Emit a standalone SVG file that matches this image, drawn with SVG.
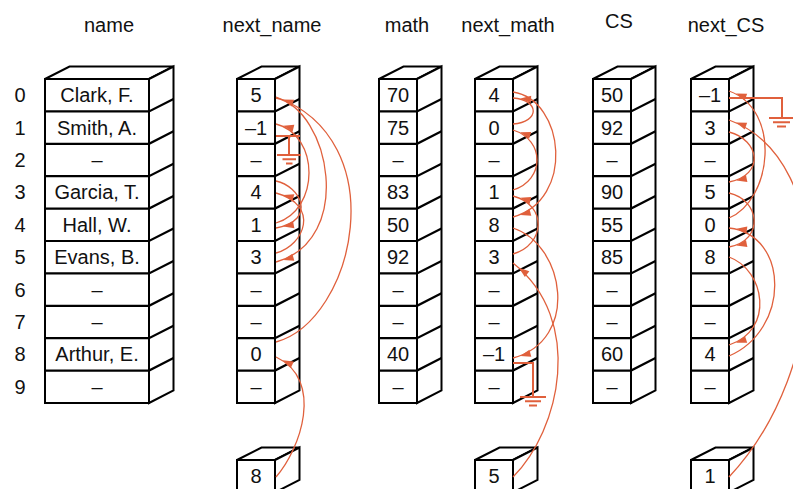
<svg xmlns="http://www.w3.org/2000/svg" xmlns:xlink="http://www.w3.org/1999/xlink" width="793" height="489" viewBox="0 0 793 489">
<style>
.f{fill:#fff;stroke:#000;stroke-width:2;stroke-linejoin:miter}
.s{fill:none;stroke:#000;stroke-width:2.2}
text{font-family:"Liberation Sans",Arial,sans-serif;font-size:20px;text-anchor:middle;fill:#111}
.c{fill:none;stroke:#E0603C;stroke-width:1.3;marker-end:url(#ah)}
.g{fill:none;stroke:#E0603C;stroke-width:2}
</style>
<defs>
<marker id="ah" markerUnits="userSpaceOnUse" markerWidth="30" markerHeight="30" refX="18" refY="0" orient="auto" overflow="visible">
<path d="M0,-3.6 L10.5,0 L0,3.6 Z" fill="#E0603C"/>
</marker>
<g id="col">
<path class="f" d="M0,0H38V324H0Z"/>
<path class="f" d="M0,0L24.5,-12.5H62.5L38,0Z"/>
<path class="f" d="M38,0L62.5,-12.5V311.5L38,324Z"/>
<path class="s" d="M0,32.4h38l24.5,-12.5M0,64.8h38l24.5,-12.5M0,97.2h38l24.5,-12.5M0,129.6h38l24.5,-12.5M0,162h38l24.5,-12.5M0,194.4h38l24.5,-12.5M0,226.8h38l24.5,-12.5M0,259.2h38l24.5,-12.5M0,291.6h38l24.5,-12.5"/>
</g>
<g id="box">
<path class="f" d="M0,0H38V32.4H0Z"/>
<path class="f" d="M0,0L24.5,-12.5H62.5L38,0Z"/>
<path class="f" d="M38,0L62.5,-12.5V19.9L38,32.4Z"/>
</g>
</defs>
<rect width="793" height="489" fill="#fff"/>

<g id="headers">
<text x="109" y="32">name</text>
<text x="272" y="32">next_name</text>
<text x="407" y="32">math</text>
<text x="508" y="32">next_math</text>
<text x="619" y="28">CS</text>
<text x="726" y="32">next_CS</text>
</g>

<g id="indices">
<text x="20" y="102.2">0</text>
<text x="20" y="134.6">1</text>
<text x="20" y="167">2</text>
<text x="20" y="199.4">3</text>
<text x="20" y="231.8">4</text>
<text x="20" y="264.2">5</text>
<text x="20" y="296.6">6</text>
<text x="20" y="329">7</text>
<text x="20" y="361.4">8</text>
<text x="20" y="393.8">9</text>
</g>

<g id="name">
<path class="f" d="M45,79H149V403H45Z"/>
<path class="f" d="M45,79L69.5,66.5H173.5L149,79Z"/>
<path class="f" d="M149,79L173.5,66.5V390.5L149,403Z"/>
<path class="s" d="M45,111.4h104l24.5,-12.5M45,143.8h104l24.5,-12.5M45,176.2h104l24.5,-12.5M45,208.6h104l24.5,-12.5M45,241h104l24.5,-12.5M45,273.4h104l24.5,-12.5M45,305.8h104l24.5,-12.5M45,338.2h104l24.5,-12.5M45,370.6h104l24.5,-12.5"/>
<text x="97" y="102.2">Clark, F.</text>
<text x="97" y="134.6">Smith, A.</text>
<text x="97" y="167">–</text>
<text x="97" y="199.4">Garcia, T.</text>
<text x="97" y="231.8">Hall, W.</text>
<text x="97" y="264.2">Evans, B.</text>
<text x="97" y="296.6">–</text>
<text x="97" y="329">–</text>
<text x="97" y="361.4">Arthur, E.</text>
<text x="97" y="393.8">–</text>
</g>

<g id="next_name">
<use xlink:href="#col" href="#col" x="237" y="79"/>
<text x="256" y="102.2">5</text>
<text x="256" y="134.6">–1</text>
<text x="256" y="167">–</text>
<text x="256" y="199.4">4</text>
<text x="256" y="231.8">1</text>
<text x="256" y="264.2">3</text>
<text x="256" y="296.6">–</text>
<text x="256" y="329">–</text>
<text x="256" y="361.4">0</text>
<text x="256" y="393.8">–</text>
</g>

<g id="math">
<use xlink:href="#col" href="#col" x="379" y="79"/>
<text x="398" y="102.2">70</text>
<text x="398" y="134.6">75</text>
<text x="398" y="167">–</text>
<text x="398" y="199.4">83</text>
<text x="398" y="231.8">50</text>
<text x="398" y="264.2">92</text>
<text x="398" y="296.6">–</text>
<text x="398" y="329">–</text>
<text x="398" y="361.4">40</text>
<text x="398" y="393.8">–</text>
</g>

<g id="next_math">
<use xlink:href="#col" href="#col" x="475" y="79"/>
<text x="494" y="102.2">4</text>
<text x="494" y="134.6">0</text>
<text x="494" y="167">–</text>
<text x="494" y="199.4">1</text>
<text x="494" y="231.8">8</text>
<text x="494" y="264.2">3</text>
<text x="494" y="296.6">–</text>
<text x="494" y="329">–</text>
<text x="494" y="361.4">–1</text>
<text x="494" y="393.8">–</text>
</g>

<g id="CS">
<use xlink:href="#col" href="#col" x="593" y="79"/>
<text x="612" y="102.2">50</text>
<text x="612" y="134.6">92</text>
<text x="612" y="167">–</text>
<text x="612" y="199.4">90</text>
<text x="612" y="231.8">55</text>
<text x="612" y="264.2">85</text>
<text x="612" y="296.6">–</text>
<text x="612" y="329">–</text>
<text x="612" y="361.4">60</text>
<text x="612" y="393.8">–</text>
</g>

<g id="next_CS">
<use xlink:href="#col" href="#col" x="691" y="79"/>
<text x="710" y="102.2">–1</text>
<text x="710" y="134.6">3</text>
<text x="710" y="167">–</text>
<text x="710" y="199.4">5</text>
<text x="710" y="231.8">0</text>
<text x="710" y="264.2">8</text>
<text x="710" y="296.6">–</text>
<text x="710" y="329">–</text>
<text x="710" y="361.4">4</text>
<text x="710" y="393.8">–</text>
</g>

<g id="head_name">
<use xlink:href="#box" href="#box" x="237" y="460"/>
<text x="256" y="483.2">8</text>
</g>
<g id="head_math">
<use xlink:href="#box" href="#box" x="475" y="460"/>
<text x="494" y="483.2">5</text>
</g>
<g id="head_CS">
<use xlink:href="#box" href="#box" x="691" y="460"/>
<text x="710" y="483.2">1</text>
</g>

<g id="connectors">
<path class="c" d="M276,477C300,450 325,380 276,357"/>
<path class="c" d="M276,342C355,320 395,140 276,97"/>
<path class="c" d="M276,98C330,110 355,240 276,262"/>
<path class="c" d="M276,253C305,245 320,205 276,193"/>
<path class="c" d="M276,181C300,186 318,220 276,228"/>
<path class="c" d="M276,223C320,210 320,135 276,124"/>
<path class="g" d="M276,136H300M289,136V155M277,155H301M282.5,159.3H296M286,163.6H292.5"/>

<path class="c" d="M513,477C560,430 585,320 513,263"/>
<path class="c" d="M513,254C545,245 548,205 513,196"/>
<path class="c" d="M513,190C545,180 545,140 513,130"/>
<path class="c" d="M513,124C540,122 540,100 513,98"/>
<path class="c" d="M513,92C565,100 575,200 513,217"/>
<path class="c" d="M513,228C565,245 580,340 513,358"/>
<path class="g" d="M513,363H533V397M520,397H546M525,401.3H541M529,405.6H537"/>

<path class="c" d="M729,477C830,370 840,160 729,120"/>
<path class="c" d="M729,132C760,140 765,175 729,182"/>
<path class="c" d="M729,193C760,200 765,240 729,247"/>
<path class="c" d="M729,257C765,270 775,330 729,345"/>
<path class="c" d="M729,356C790,330 790,235 729,228"/>
<path class="c" d="M729,218C772,200 782,110 729,91"/>
<path class="g" d="M729,98H782V118M769,118H795M773,122.3H790M777,126.6H786"/>
</g>
</svg>
